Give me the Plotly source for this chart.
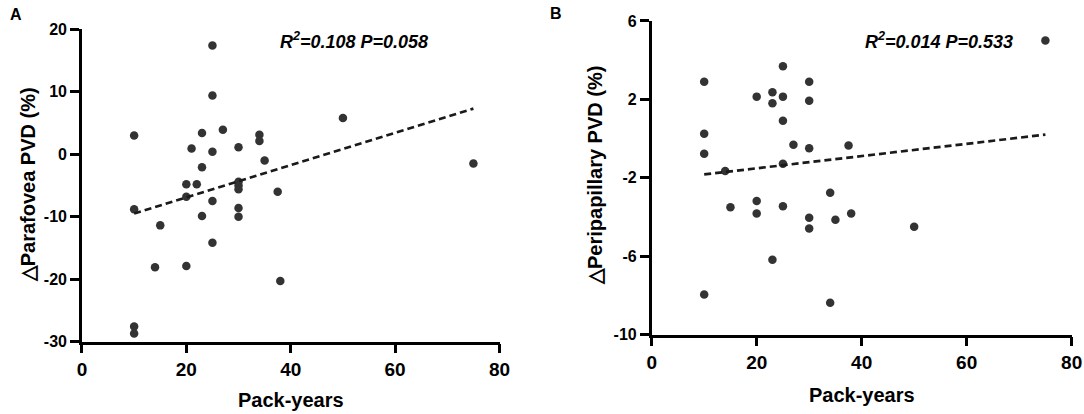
import plotly.graph_objects as go

# Panel A: pack-years vs change in parafoveal PVD (%)
pack_years_a = [10, 10, 10, 10, 14, 15, 20, 20, 20, 21, 22, 23, 23, 23,
                25, 25, 25, 25, 25, 27, 30, 30, 30, 30, 30, 30, 34, 34,
                35, 37.5, 38, 50, 75]
parafovea_pvd = [3.0, -8.8, -27.6, -28.7, -18.1, -11.4, -4.8, -6.8, -17.9, 0.9, -4.8, 3.4, -2.1, -9.9,
                 17.4, 9.4, 0.4, -7.5, -14.2, 3.9, 1.1, -4.4, -5.0, -5.6, -8.6, -10.0, 3.1, 2.1,
                 -1.0, -6.0, -20.3, 5.8, -1.5]
fit_x_a = [10, 75]
fit_y_a = [-9.5, 7.3]

# Panel B: pack-years vs change in peripapillary PVD (%)
pack_years_b = [10, 10, 10, 10, 14, 15, 20, 20, 20, 23, 23, 23, 25, 25, 25,
                25, 25, 27, 30, 30, 30, 30, 30, 34, 34, 35, 37.5, 38, 50, 75]
peripapillary_pvd = [2.9, 0.25, -0.77, -7.96, -1.66, -3.5, 2.14, -3.19, -3.82, 2.36, 1.8, -6.19, 3.69, 2.14, 0.91,
                     -1.29, -3.45, -0.31, 2.9, 1.93, -0.5, -4.04, -4.59, -2.77, -8.38, -4.14, -0.35, -3.82, -4.5, 5.0]
fit_x_b = [10, 75]
fit_y_b = [-1.83, 0.2]

x_ticks = [0, 20, 40, 60, 80]
y_ticks_a = [20, 10, 0, -10, -20, -30]
y_ticks_b = [6, 2, -2, -6, -10]

FONT = "Liberation Sans, Arial, sans-serif"
DOT = "#333333"

fig = go.Figure()

# Scatter points and dashed fit lines.
fig.add_trace(go.Scatter(x=pack_years_a, y=parafovea_pvd, mode="markers",
                         marker=dict(size=8.5, color=DOT), xaxis="x", yaxis="y"))
fig.add_trace(go.Scatter(x=fit_x_a, y=fit_y_a, mode="lines",
                         line=dict(color="#1a1a1a", width=2.7, dash="7px,4px"),
                         xaxis="x", yaxis="y"))
fig.add_trace(go.Scatter(x=pack_years_b, y=peripapillary_pvd, mode="markers",
                         marker=dict(size=8.5, color=DOT), xaxis="x2", yaxis="y2"))
fig.add_trace(go.Scatter(x=fit_x_b, y=fit_y_b, mode="lines",
                         line=dict(color="#1a1a1a", width=2.7, dash="7px,4px"),
                         xaxis="x2", yaxis="y2"))

axis_style = dict(showline=True, linewidth=2.6, linecolor="black", ticks="outside",
                  ticklen=9, tickwidth=2.6, tickcolor="black", showgrid=False,
                  zeroline=False, mirror=False)

def xaxis(domain, anchor):
    return dict(axis_style, domain=domain, anchor=anchor, range=[0, 80],
                tickvals=x_ticks, ticktext=[str(v) for v in x_ticks],
                tickfont=dict(family=FONT, size=19, weight="bold", color="black"))

def yaxis(domain, anchor, rng, ticks):
    return dict(axis_style, domain=domain, anchor=anchor, range=rng,
                tickvals=ticks, ticktext=[str(v) for v in ticks],
                tickfont=dict(family=FONT, size=16, weight="bold", color="black"))

fig.update_layout(
    width=1084, height=414, autosize=False, template="none",
    margin=dict(l=0, r=0, t=0, b=0),
    paper_bgcolor="white", plot_bgcolor="white", showlegend=False,
    xaxis=xaxis([0.0756, 0.4608], "y"),
    yaxis=yaxis([0.1751, 0.9292], "x", [-30, 20], y_ticks_a),
    xaxis2=xaxis([0.6012, 0.9886], "y2"),
    yaxis2=yaxis([0.1920, 0.9493], "x2", [-10, 6], y_ticks_b),
)

bold = dict(family=FONT, color="black", weight="bold")
notes = [
    dict(text="A", x=0.0148, y=0.965, font=dict(bold, size=16)),
    dict(text="B", x=0.5129, y=0.9662, font=dict(bold, size=16)),
    dict(text="<i>R<sup>2</sup>=0.108 P=0.058</i>", x=0.3263, y=0.9017, font=dict(bold, size=18)),
    dict(text="<i>R<sup>2</sup>=0.014 P=0.533</i>", x=0.8662, y=0.9022, font=dict(bold, size=18)),
    dict(text="Pack-years", x=0.2681, y=0.0338, font=dict(bold, size=20)),
    dict(text="Pack-years", x=0.7949, y=0.0459, font=dict(bold, size=20)),
    dict(text="\u25b3Parafovea PVD (%)", x=0.0261, y=0.5531, textangle=-90, font=dict(bold, size=20)),
    dict(text="\u25b3Peripapillary PVD (%)", x=0.5489, y=0.5749, textangle=-90, font=dict(bold, size=20)),
]
for n in notes:
    fig.add_annotation(xref="paper", yref="paper", xanchor="center", yanchor="middle",
                       showarrow=False, **n)

# Drop the browser's default body margin so the figure fills the window.
fig.write_html("out.html", config={"displayModeBar": False},
               post_script="document.body.style.margin='0px';")
